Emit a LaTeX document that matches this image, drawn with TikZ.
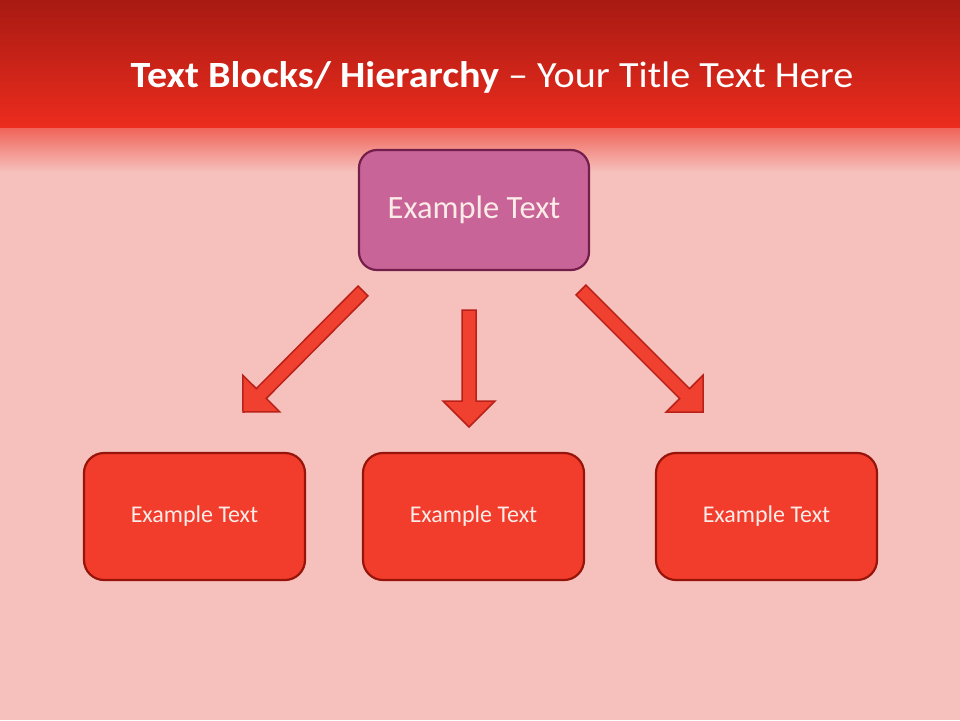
\documentclass[tikz,border=0pt]{standalone}
\usepackage{fontspec}
\setmainfont{Carlito}
\usetikzlibrary{calc}
\definecolor{bgpink}{RGB}{246,192,188}
\definecolor{hdtop}{RGB}{168,26,18}
\definecolor{hdbot}{RGB}{236,44,30}
\definecolor{hdfade}{RGB}{240,100,90}
\definecolor{topfill}{RGB}{201,100,152}
\definecolor{topline}{RGB}{115,30,75}
\definecolor{boxfill}{RGB}{242,61,45}
\definecolor{boxline}{RGB}{150,20,10}
\definecolor{arrfill}{RGB}{240,64,48}
\definecolor{arrline}{RGB}{185,32,24}
\definecolor{txtlight}{RGB}{252,236,232}
\tikzset{
  topbox/.style={draw=topline, line width=2.2pt, fill=topfill, rounded corners=18pt,
    minimum width=230pt, minimum height=120pt, text=txtlight, font=\fontsize{32.5}{38}\selectfont},
  lowbox/.style={draw=boxline, line width=2.2pt, fill=boxfill, rounded corners=20pt,
    minimum width=221pt, minimum height=127pt, text=txtlight, font=\fontsize{24}{28}\selectfont},
  barrow/.style={draw=arrline, line width=1.5pt, fill=arrfill, line join=miter}
}
\newcommand\blockarrow[2]{%
  \coordinate (hb) at ($(#2)!26pt!(#1)$);
  \draw[barrow] ($(#1)!7pt!90:(#2)$) -- ($(hb)!7pt!90:(#2)$) -- ($(hb)!26pt!90:(#2)$)
    -- (#2) -- ($(hb)!26pt!-90:(#2)$) -- ($(hb)!7pt!-90:(#2)$) -- ($(#1)!7pt!-90:(#2)$) -- cycle;
}
\begin{document}
\begin{tikzpicture}[x=1pt,y=-1pt]
\useasboundingbox (0,0) rectangle (960,720);
\fill[bgpink] (0,0) rectangle (960,720);
\shade[top color=hdtop, bottom color=hdbot] (0,0) rectangle (960,128);
\shade[top color=hdfade, bottom color=bgpink] (0,128) rectangle (960,172);
\node[text=white, font=\fontsize{37}{42}\selectfont, xscale=1.085] (title) at (492,77)
  {\textbf{Text Blocks/ Hierarchy} – Your Title Text Here};
\node[topbox] (top) at (474,210) {Example Text};
\node[lowbox] (b1) at (194.5,516.5) {Example Text};
\node[lowbox] (b2) at (473.5,516.5) {Example Text};
\node[lowbox] (b3) at (766.5,516.5) {Example Text};
\coordinate (t1) at (363,291); \coordinate (h1) at (243,412);
\coordinate (t2) at (469,310); \coordinate (h2) at (469,427);
\coordinate (t3) at (581,290); \coordinate (h3) at (703,412);
\blockarrow{t1}{h1}
\blockarrow{t2}{h2}
\blockarrow{t3}{h3}
\end{tikzpicture}
\end{document}
